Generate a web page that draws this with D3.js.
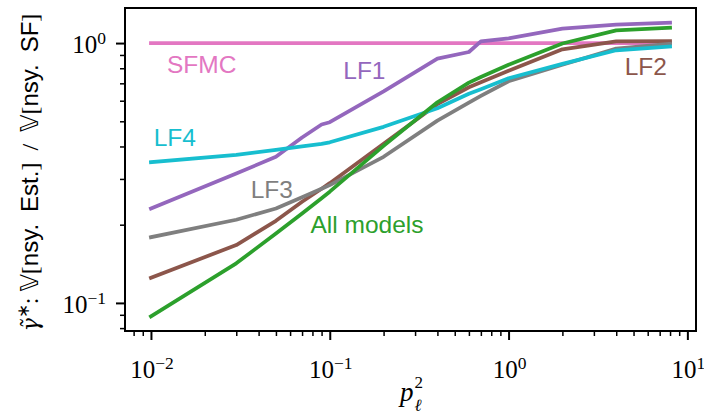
<!DOCTYPE html>
<html>
<head>
<meta charset="utf-8">
<script src="https://cdn.jsdelivr.net/npm/d3@7"></script>
<style>
  body { margin: 0; background: #fff; }
  svg { display: block; }
</style>
</head>
<body>
<div id="chart"></div>
<script>
// p_l^2 grid on the x axis
const pSq = [0.01, 0.03, 0.05, 0.07, 0.09, 0.1, 0.2, 0.4, 0.6, 0.7, 1, 2, 4, 8];

// ratio of variances, one list per estimator
const sfmc = [1, 1, 1, 1, 1, 1, 1, 1, 1, 1, 1, 1, 1, 1];
const lf1 = [0.231, 0.315, 0.365, 0.433, 0.486, 0.496, 0.652, 0.871, 0.924, 1.015, 1.042, 1.136, 1.177, 1.198];
const lf2 = [0.125, 0.167, 0.207, 0.245, 0.275, 0.289, 0.41, 0.582, 0.676, 0.707, 0.782, 0.946, 1.015, 1.018];
const lf3 = [0.179, 0.209, 0.231, 0.255, 0.275, 0.284, 0.365, 0.503, 0.59, 0.626, 0.713, 0.825, 0.952, 0.993];
const lf4 = [0.348, 0.371, 0.388, 0.4, 0.409, 0.415, 0.476, 0.561, 0.638, 0.664, 0.732, 0.832, 0.938, 0.969];
const allModels = [0.0888, 0.142, 0.185, 0.221, 0.253, 0.268, 0.402, 0.592, 0.704, 0.74, 0.825, 0.996, 1.119, 1.146];

const seriesNames = ["SFMC", "LF1", "LF2", "LF3", "LF4", "All models"];
const seriesValues = [sfmc, lf1, lf2, lf3, lf4, allModels];
const seriesColors = ["#e377c2", "#9467bd", "#8c564b", "#7f7f7f", "#17becf", "#2ca02c"];

// where each name is written, in data units (start of the text baseline)
const labelSpots = [[0.0123, 0.765], [0.119, 0.726], [4.46, 0.755], [0.0361, 0.2535], [0.01035, 0.4025], [0.078, 0.1861]];

const width = 704,
  height = 415;
const margin = { top: 8, right: 8, bottom: 84, left: 125 };

const svg = d3
  .select("#chart")
  .append("svg")
  .attr("width", width)
  .attr("height", height);

// matplotlib style 5% padding, done in log space
function logPad(values) {
  const [lo, hi] = d3.extent(values).map(Math.log10);
  const pad = (hi - lo) * 0.05;
  return [Math.pow(10, lo - pad), Math.pow(10, hi + pad)];
}

const x = d3
  .scaleLog()
  .domain(logPad(pSq))
  .range([margin.left, width - margin.right]);

const y = d3
  .scaleLog()
  .domain(logPad(seriesValues.flat()))
  .range([height - margin.bottom, margin.top]);

function logTicks(scale) {
  const [lo, hi] = scale.domain();
  const major = [], minor = [];
  for (let e = Math.floor(Math.log10(lo)); e <= Math.ceil(Math.log10(hi)); e++) {
    for (let m = 1; m < 10; m++) {
      const v = m * Math.pow(10, e);
      if (v < lo || v > hi) continue;
      (m === 1 ? major : minor).push(v);
    }
  }
  return { major, minor };
}

function expLabel(sel, v) {
  const e = Math.round(Math.log10(v));
  sel.append("tspan").text("10");
  sel
    .append("tspan")
    .attr("dy", -9)
    .attr("font-size", 17.5)
    .text(e < 0 ? "\u2212" + -e : e);
}

const xt = logTicks(x);
const yt = logTicks(y);
const bottom = height - margin.bottom;

function styleAxis(g, w) {
  g.select(".domain").remove();
  g.selectAll(".tick line").attr("stroke", "#000").attr("stroke-width", w);
}

svg.append("g")
  .attr("transform", `translate(0,${bottom})`)
  .call(d3.axisBottom(x).tickValues(xt.minor).tickSize(5).tickFormat(""))
  .call(styleAxis, 1.5);
svg.append("g")
  .attr("transform", `translate(0,${bottom})`)
  .call(d3.axisBottom(x).tickValues(xt.major).tickSize(9).tickFormat(""))
  .call(styleAxis, 2);
svg.append("g")
  .attr("transform", `translate(${margin.left},0)`)
  .call(d3.axisLeft(y).tickValues(yt.minor).tickSize(5).tickFormat(""))
  .call(styleAxis, 1.5);
svg.append("g")
  .attr("transform", `translate(${margin.left},0)`)
  .call(d3.axisLeft(y).tickValues(yt.major).tickSize(9).tickFormat(""))
  .call(styleAxis, 2);

const tickFont = "'Liberation Serif', serif";

xt.major.forEach((v) => {
  svg
    .append("text")
    .attr("x", x(v) + 1)
    .attr("y", bottom + 47)
    .attr("text-anchor", "middle")
    .attr("font-family", tickFont)
    .attr("font-size", 25)
    .call(expLabel, v);
});

yt.major.forEach((v) => {
  svg
    .append("text")
    .attr("x", margin.left - 19)
    .attr("y", y(v) + 10)
    .attr("text-anchor", "end")
    .attr("font-family", tickFont)
    .attr("font-size", 25)
    .call(expLabel, v);
});

// curves
const line = d3
  .line()
  .x((d, i) => x(pSq[i]))
  .y((d) => y(d));

seriesValues.forEach((vals, k) => {
  svg
    .append("path")
    .datum(vals)
    .attr("fill", "none")
    .attr("stroke", seriesColors[k])
    .attr("stroke-width", 3.75)
    .attr("stroke-linejoin", "round")
    .attr("stroke-linecap", "square")
    .attr("d", line);
});

// names written next to the curves
seriesNames.forEach((name, k) => {
  svg
    .append("text")
    .attr("x", x(labelSpots[k][0]))
    .attr("y", y(labelSpots[k][1]))
    .attr("fill", seriesColors[k])
    .attr("font-family", "'Liberation Sans', Arial, sans-serif")
    .attr("font-size", 24.5)
    .text(name);
});

// frame
svg
  .append("rect")
  .attr("x", margin.left)
  .attr("y", margin.top)
  .attr("width", width - margin.left - margin.right)
  .attr("height", bottom - margin.top)
  .attr("fill", "none")
  .attr("stroke", "#000")
  .attr("stroke-width", 2);

// x label: p with subscript l and superscript 2
const cx = (margin.left + width - margin.right) / 2;
svg.append("text")
  .attr("x", cx + 3)
  .attr("y", 401)
  .attr("text-anchor", "end")
  .attr("font-family", tickFont)
  .attr("font-style", "italic")
  .attr("font-size", 27)
  .text("p");
svg.append("text")
  .attr("x", cx + 4)
  .attr("y", 388)
  .attr("font-family", tickFont)
  .attr("font-size", 17)
  .text("2");
svg.append("text")
  .attr("x", cx + 4)
  .attr("y", 411)
  .attr("font-family", tickFont)
  .attr("font-style", "italic")
  .attr("font-size", 17)
  .text("\u2113");

// y label
const sans = "'Liberation Sans', Arial, sans-serif";
const yl = svg
  .append("text")
  .attr("transform", `translate(38,${(margin.top + bottom) / 2 + 3}) rotate(-90)`)
  .attr("text-anchor", "middle")
  .attr("font-family", tickFont)
  .attr("font-size", 24);
yl.append("tspan").attr("font-family", "'DejaVu Serif'").attr("font-style", "italic").attr("font-size", 22).text("\u03b3\u0303");
yl.append("tspan").attr("dy", -9).attr("font-size", 17).text("\u2217");
yl.append("tspan").attr("dy", 9).text(": ");
yl.append("tspan").attr("font-family", "'DejaVu Sans'").text("\ud835\udd4d");
yl.append("tspan").text("[");
yl.append("tspan").attr("font-family", sans).text("nsy.\u2002Est.");
yl.append("tspan").text("]\u2002/\u2002");
yl.append("tspan").attr("font-family", "'DejaVu Sans'").text("\ud835\udd4d");
yl.append("tspan").text("[");
yl.append("tspan").attr("font-family", sans).text("nsy.\u2002SF");
yl.append("tspan").text("]");
</script>
</body>
</html>
